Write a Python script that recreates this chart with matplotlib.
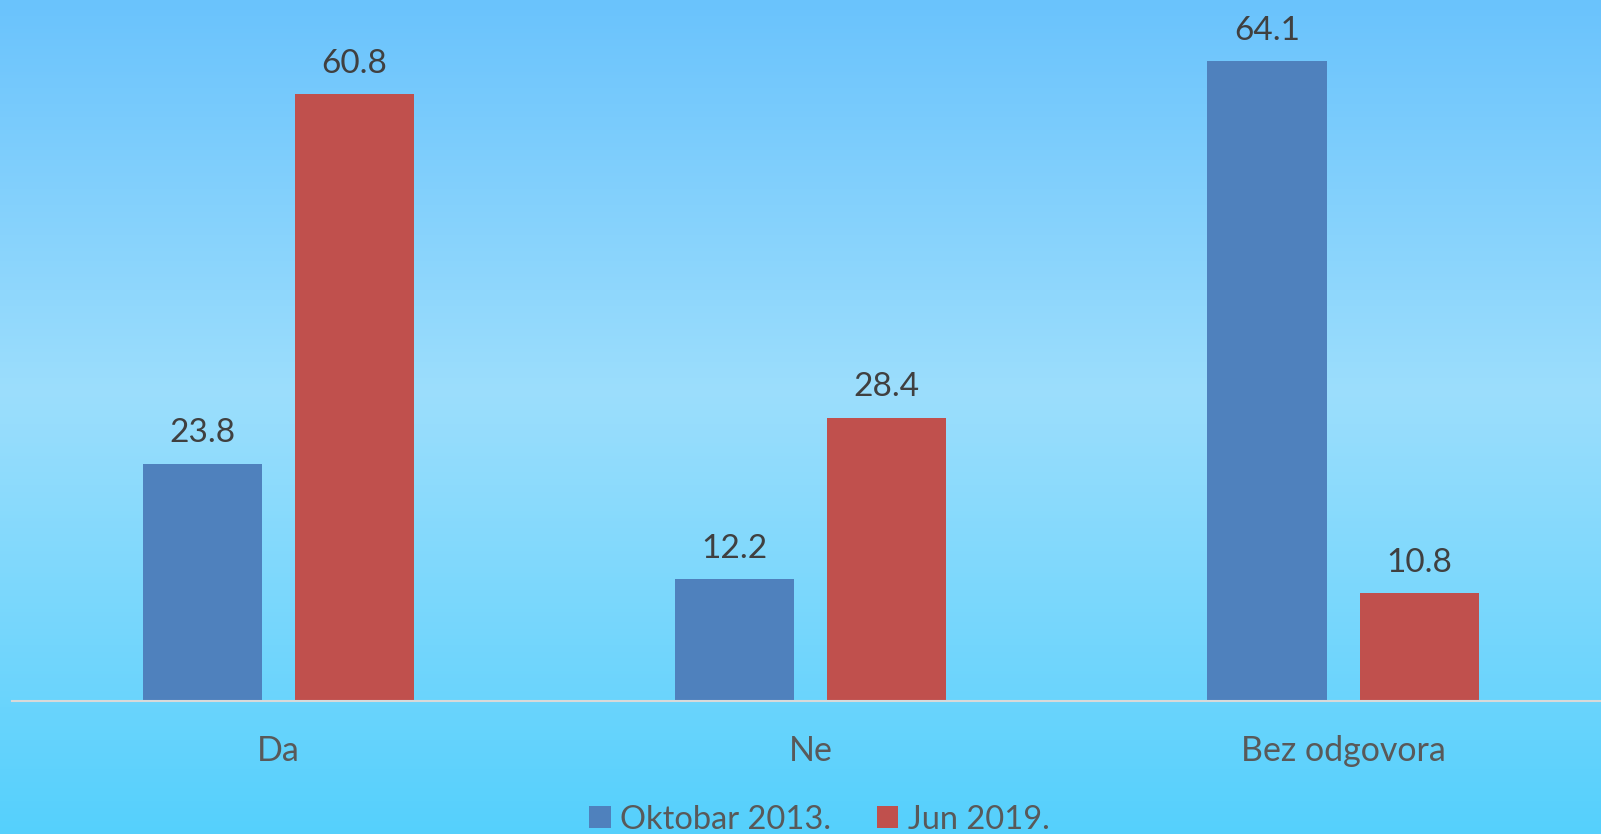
import matplotlib
matplotlib.use('Agg')
import matplotlib.pyplot as plt
from matplotlib.colors import LinearSegmentedColormap
import numpy as np

categories = ['Da', 'Ne', 'Bez odgovora']
oktobar_2013 = [23.8, 12.2, 64.1]
jun_2019 = [60.8, 28.4, 10.8]
series_names = ['Oktobar 2013.', 'Jun 2019.']

BLUE = '#4F81BD'
RED = '#C0504D'

plt.rcParams['font.family'] = ['Lato', 'DejaVu Sans']

fig = plt.figure(figsize=(16.01, 8.34), dpi=100)

# gradient background
bg = fig.add_axes([0, 0, 1, 1], zorder=-10)
bg_cmap = LinearSegmentedColormap.from_list(
    'bg', [(0.0, '#55D0FC'), (0.53, '#9CDEFC'), (1.0, '#6AC3FC')])
grad = np.linspace(0, 1, 256).reshape(-1, 1)
bg.imshow(grad, aspect='auto', cmap=bg_cmap, origin='lower', extent=[0, 1, 0, 1])
bg.set_axis_off()

ax = fig.add_axes([12 / 1568, 130 / 817, 1564 / 1568, 685 / 817])
ax.patch.set_alpha(0)

x = np.arange(len(categories))
w = 0.224
off = 0.143
b1 = ax.bar(x - off, oktobar_2013, w, color=BLUE, label=series_names[0])
b2 = ax.bar(x + off, jun_2019, w, color=RED, label=series_names[1])

for bars in (b1, b2):
    for p in bars:
        h = p.get_height()
        ax.annotate(f'{h:.1f}', (p.get_x() + p.get_width() / 2, h),
                    xytext=(0, 11), textcoords='offset points',
                    ha='center', va='bottom', fontsize=24, color='#404040')

ax.set_xlim(-0.5, 2.5)
ax.set_ylim(0, 70)
ax.set_xticks(x)
ax.set_xticklabels(categories, fontsize=24.5, color='#595959')
ax.tick_params(axis='x', length=0, pad=24)
ax.set_yticks([])
for s in ['top', 'right', 'left']:
    ax.spines[s].set_visible(False)
ax.spines['bottom'].set_color('#D9D9D9')
ax.spines['bottom'].set_linewidth(1.5)

fig.legend(handles=[b1, b2], labels=series_names, loc='center',
           bbox_to_anchor=(0.512, 0.017), ncol=2, frameon=False,
           fontsize=23.5, labelcolor='#595959', handlelength=0.65,
           handleheight=0.65, handletextpad=0.3, columnspacing=1.4)

fig.savefig('out.png', dpi=100)
plt.close()
